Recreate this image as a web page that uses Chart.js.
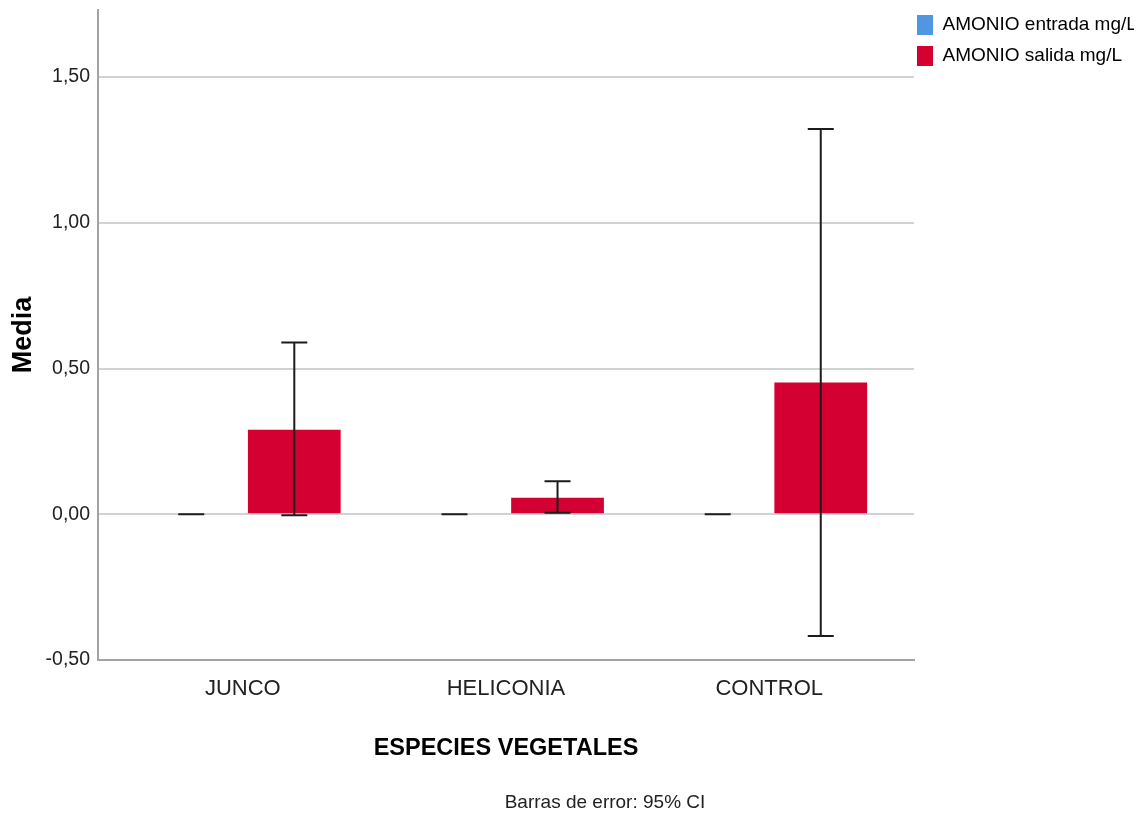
<!DOCTYPE html>
<html>
<head>
<meta charset="utf-8">
<title>AMONIO por especie vegetal</title>
<script src="https://cdn.jsdelivr.net/npm/chart.js@4.4.1/dist/chart.umd.min.js"></script>
<style>
  html, body { margin: 0; padding: 0; background: #ffffff; }
  #wrap { width: 1142px; height: 814px; }
</style>
</head>
<body>
<div id="wrap"><canvas id="chart" width="1142" height="814"></canvas></div>
<script>
// Categories and group means (mg/L) with their 95% CI limits
const categories = ['JUNCO', 'HELICONIA', 'CONTROL'];
const entradaMedia = [0, 0, 0];
const entradaLow   = [0, 0, 0];
const entradaHigh  = [0, 0, 0];
const salidaMedia  = [0.290, 0.057, 0.452];
const salidaLow    = [-0.003, 0.005, -0.418];
const salidaHigh   = [0.589, 0.113, 1.322];
const yTicks = [-0.5, 0, 0.5, 1.0, 1.5];

const FONT = "'Liberation Sans', Arial, sans-serif";

const toPoints = (vals) => vals.map((v, i) => ({ x: i, y: v }));

// Vertical whiskers with caps for each bar
const errorBars = {
  id: 'errorBars',
  afterDatasetsDraw(chart, args, opts) {
    const { ctx, scales: { y } } = chart;
    ctx.save();
    ctx.strokeStyle = opts.color;
    ctx.lineWidth = opts.width;
    chart.data.datasets.forEach((ds, di) => {
      const meta = chart.getDatasetMeta(di);
      if (meta.hidden) return;
      meta.data.forEach((bar, i) => {
        const lo = y.getPixelForValue(ds.ciLow[i]);
        const hi = y.getPixelForValue(ds.ciHigh[i]);
        const x = bar.x, c = opts.cap / 2;
        ctx.beginPath();
        ctx.moveTo(x, lo); ctx.lineTo(x, hi);
        ctx.moveTo(x - c, hi); ctx.lineTo(x + c, hi);
        ctx.moveTo(x - c, lo); ctx.lineTo(x + c, lo);
        ctx.stroke();
      });
    });
    ctx.restore();
  }
};

// Pull the legend column closer to the plot edge
const legendInset = {
  id: 'legendInset',
  afterLayout(chart, args, opts) {
    const lg = chart.legend;
    if (!lg) return;
    lg.left -= opts.shift;
    lg.right -= opts.shift;
  }
};

// Footnote under the axis title
const footnote = {
  id: 'footnote',
  afterDraw(chart, args, opts) {
    const { ctx } = chart;
    ctx.save();
    ctx.font = opts.font;
    ctx.fillStyle = opts.color;
    ctx.textAlign = 'center';
    ctx.textBaseline = 'middle';
    ctx.fillText(opts.text, opts.x, opts.y);
    ctx.restore();
  }
};

new Chart(document.getElementById('chart'), {
  type: 'bar',
  data: {
    datasets: [
      {
        label: 'AMONIO entrada mg/L',
        data: toPoints(entradaMedia),
        ciLow: entradaLow,
        ciHigh: entradaHigh,
        backgroundColor: '#5096e1',
        borderWidth: 0
      },
      {
        label: 'AMONIO salida mg/L',
        data: toPoints(salidaMedia),
        ciLow: salidaLow,
        ciHigh: salidaHigh,
        backgroundColor: '#d50032',
        borderWidth: 0
      }
    ]
  },
  options: {
    responsive: false,
    animation: false,
    categoryPercentage: 0.783,
    barPercentage: 0.9,
    layout: { padding: { top: 4, left: 0, right: 0, bottom: 40 } },
    scales: {
      x: {
        type: 'linear',
        min: -0.55,
        max: 2.55,
        offset: false,
        afterBuildTicks(scale) { scale.ticks = categories.map((c, i) => ({ value: i })); },
        afterFit(scale) { scale.height = 114; },
        grid: { display: false, drawTicks: false },
        border: { display: true, color: '#a3a3a3', width: 2 },
        ticks: {
          padding: 16,
          color: '#222222',
          font: { family: FONT, size: 22 },
          callback: (v) => categories[v]
        },
        title: {
          display: true,
          text: 'ESPECIES VEGETALES',
          color: '#000000',
          font: { family: FONT, size: 23.5, weight: 'bold' },
          padding: { top: 0, bottom: 11 }
        }
      },
      y: {
        min: -0.5,
        max: 1.73,
        afterBuildTicks(scale) { scale.ticks = yTicks.map(v => ({ value: v })); },
        afterFit(scale) {
          scale.width = 98;
          scale.paddingTop = 10;
          scale.paddingBottom = 0;
        },
        grid: { color: '#d2d2d2', lineWidth: 2, drawTicks: false },
        border: { display: true, color: '#a3a3a3', width: 2 },
        ticks: {
          padding: 8,
          color: '#222222',
          font: { family: FONT, size: 19.5 },
          callback: (v) => v.toFixed(2).replace('.', ',')
        },
        title: {
          display: true,
          text: 'Media',
          color: '#000000',
          font: { family: FONT, size: 27, weight: 'bold' },
          padding: { top: 7, bottom: 0 }
        }
      }
    },
    plugins: {
      legend: {
        position: 'right',
        align: 'start',
        maxWidth: 228,
        labels: {
          boxWidth: 16,
          boxHeight: 20,
          padding: 11,
          color: '#000000',
          font: { family: FONT, size: 19 }
        }
      },
      legendInset: { shift: 8 },
      tooltip: { enabled: false },
      errorBars: { color: '#1c1c1c', width: 2, cap: 26 },
      footnote: {
        text: 'Barras de error: 95% CI',
        x: 605, y: 803,
        color: '#222222',
        font: "19px 'Liberation Sans', Arial, sans-serif"
      }
    }
  },
  plugins: [errorBars, legendInset, footnote]
});
</script>
</body>
</html>
